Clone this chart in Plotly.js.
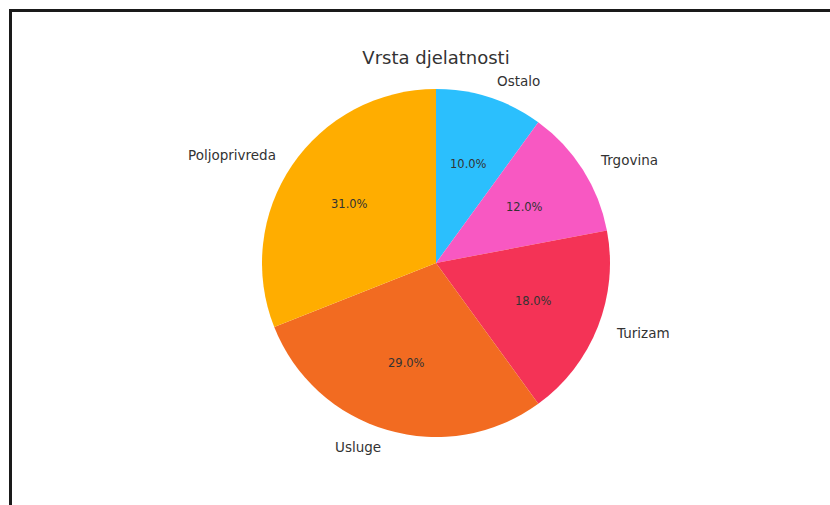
<!DOCTYPE html>
<html>
<head>
<meta charset="utf-8">
<script src="https://cdn.plot.ly/plotly-3.0.1.min.js"></script>
<style>
  body { margin: 0; background: #fff; }
  #frame { position: absolute; left: 9px; top: 9px; width: 830px; height: 510px;
           border-left: 3px solid #1a1a1a; border-top: 3px solid #1a1a1a; }
  #chart { position: absolute; left: 0; top: 0; width: 830px; height: 505px; }
</style>
</head>
<body>
<div id="frame"></div>
<div id="chart"></div>
<script>
// data, in matplotlib order (counter-clockwise from 12 o'clock)
var categories = ["Poljoprivreda", "Usluge", "Turizam", "Trgovina", "Ostalo"];
var shares = [31, 29, 18, 12, 10];
var sliceColors = ["#ffad00", "#f26b21", "#f43356", "#f858c2", "#2bbffd"];

// pie geometry in pixels
var W = 830, H = 505;
var cx = 436, cy = 263, r = 174;

// plotly's counterclockwise ends the first slice at 12 o'clock, so go clockwise on reversed arrays
var trace = {
  type: "pie",
  labels: categories.slice().reverse(),
  values: shares.slice().reverse(),
  sort: false,
  direction: "clockwise",
  rotation: 0,
  textinfo: "none",
  hoverinfo: "label+percent",
  marker: {colors: sliceColors.slice().reverse(), line: {width: 0}},
  domain: {x: [(cx - r) / W, (cx + r) / W], y: [1 - (cy + r) / H, 1 - (cy - r) / H]},
  showlegend: false
};

// labels like matplotlib: name at 1.1r, percent at 0.6r
var total = shares.reduce((a, b) => a + b, 0);
var annotations = [];
var start = 90;
shares.forEach(function(v, i) {
  var mid = (start + v / total * 180) * Math.PI / 180;
  start += v / total * 360;
  var dx = Math.cos(mid), dy = Math.sin(mid);
  annotations.push({
    text: categories[i], showarrow: false, xref: "paper", yref: "paper",
    x: (cx + 1.1 * r * dx) / W, y: 1 - (cy - 1.1 * r * dy) / H,
    xanchor: dx > 0 ? "left" : "right", yanchor: "middle",
    font: {size: 13.5, color: "#333333"}
  });
  annotations.push({
    text: (v / total * 100).toFixed(1) + "%", showarrow: false, xref: "paper", yref: "paper",
    x: (cx + 0.6 * r * dx) / W, y: 1 - (cy - 0.6 * r * dy) / H,
    xanchor: "center", yanchor: "middle",
    font: {size: 11.5, color: "#333333"}
  });
});

var layout = {
  width: W, height: H,
  margin: {l: 0, r: 0, t: 0, b: 0},
  paper_bgcolor: "rgba(0,0,0,0)",
  plot_bgcolor: "rgba(0,0,0,0)",
  font: {family: "DejaVu Sans", color: "#333333"},
  title: {text: "Vrsta djelatnosti", x: cx / W, xanchor: "center", y: 1 - 58 / H, yanchor: "middle",
          font: {size: 18, color: "#333333"}},
  annotations: annotations
};

Plotly.newPlot("chart", [trace], layout, {displayModeBar: false, staticPlot: true});
</script>
</body>
</html>
